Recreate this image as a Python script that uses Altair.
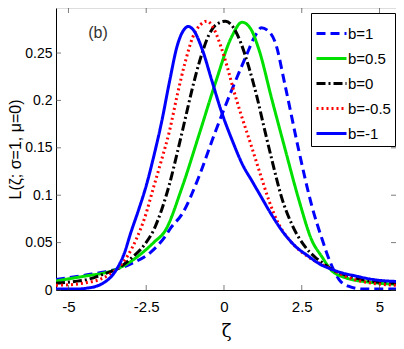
import altair as alt
import pandas as pd

# ---- data ----
labels = ["b=1", "b=0.5", "b=0", "b=-0.5", "b=-1"]
colors = ["#0000FF", "#00E000", "#000000", "#FF0000", "#0000FF"]
dashes = [[9, 5], [1, 0], [9, 3, 2, 3], [2, 3], [1, 0]]

b1_x = [-5.4, -4.4, -3.85, -3.45, -2.9, -2.35, -1.9, -1.7, -1.35, -0.8, -0.3, 0.25, 0.7, 1.0, 1.2, 1.4, 1.65, 1.97, 2.4, 2.83, 3.15, 3.42, 3.7, 4.0, 4.45, 5.0, 5.53]
b1_y = [0.011, 0.016, 0.019, 0.022, 0.029, 0.040, 0.056, 0.066, 0.080, 0.120, 0.165, 0.211, 0.246, 0.268, 0.2766, 0.274, 0.261, 0.215, 0.148, 0.088, 0.054, 0.029, 0.011, 0.004, 0.001, 0.001, 0.001]

b05_x = [-5.4, -4.4, -3.85, -3.45, -2.87, -2.23, -1.9, -1.35, -0.8, -0.28, 0.26, 0.58, 0.85, 1.12, 1.54, 1.97, 2.4, 2.83, 3.15, 3.42, 3.9, 4.75, 5.53]
b05_y = [0.0095, 0.015, 0.018, 0.022, 0.033, 0.051, 0.062, 0.108, 0.164, 0.218, 0.268, 0.2825, 0.276, 0.254, 0.201, 0.148, 0.096, 0.052, 0.035, 0.022, 0.013, 0.008, 0.006]

b0_x = [-5.4, -4.8, -4.4, -3.85, -3.45, -3.0, -2.55, -2.25, -2.0, -1.75, -1.5, -1.25, -1.0, -0.75, -0.5, -0.25, 0.05, 0.3, 0.55, 0.8, 1.05, 1.3, 1.55, 1.85, 2.2, 2.6, 2.95, 3.2, 3.45, 3.8, 4.2, 4.8, 5.53]
b0_y = [0.007, 0.009, 0.011, 0.017, 0.022, 0.033, 0.048, 0.064, 0.085, 0.112, 0.145, 0.180, 0.215, 0.245, 0.268, 0.280, 0.2836, 0.277, 0.260, 0.235, 0.205, 0.170, 0.136, 0.098, 0.068, 0.046, 0.034, 0.028, 0.022, 0.017, 0.013, 0.009, 0.007]

bm05_x = [-5.4, -4.8, -4.4, -4.0, -3.7, -3.45, -3.1, -2.8, -2.55, -2.25, -2.0, -1.75, -1.5, -1.25, -1.0, -0.75, -0.55, -0.35, -0.1, 0.1, 0.3, 0.55, 0.85, 1.15, 1.45, 1.75, 2.1, 2.5, 2.9, 3.15, 3.45, 3.8, 4.2, 4.8, 5.53]
bm05_y = [0.005, 0.006, 0.008, 0.011, 0.016, 0.022, 0.036, 0.055, 0.076, 0.110, 0.138, 0.168, 0.206, 0.240, 0.267, 0.280, 0.2836, 0.277, 0.257, 0.236, 0.212, 0.185, 0.155, 0.124, 0.094, 0.070, 0.053, 0.040, 0.031, 0.027, 0.022, 0.016, 0.011, 0.007, 0.005]

bm1_x = [-5.4, -4.8, -4.4, -4.1, -3.85, -3.6, -3.45, -3.2, -3.0, -2.75, -2.5, -2.25, -2.0, -1.75, -1.5, -1.3, -1.15, -1.0, -0.7, -0.4, -0.1, 0.3, 0.6, 0.9, 1.2, 1.5, 1.9, 2.3, 2.7, 3.1, 3.45, 3.8, 4.2, 4.8, 5.53]
bm1_y = [0.001, 0.001, 0.002, 0.004, 0.008, 0.015, 0.022, 0.039, 0.060, 0.084, 0.110, 0.142, 0.178, 0.220, 0.258, 0.274, 0.278, 0.275, 0.254, 0.222, 0.190, 0.155, 0.132, 0.115, 0.098, 0.081, 0.061, 0.046, 0.036, 0.027, 0.022, 0.018, 0.015, 0.011, 0.009]

x_ticks = [-5, -2.5, 0, 2.5, 5]
y_ticks = [0, 0.05, 0.1, 0.15, 0.2, 0.25]
x_domain = [-5.4, 5.53]
y_domain = [0, 0.2975]

series = [(b1_x, b1_y), (b05_x, b05_y), (b0_x, b0_y), (bm05_x, bm05_y), (bm1_x, bm1_y)]
rows = []
for lab, (xs, ys) in zip(labels, series):
    for xv, yv in zip(xs, ys):
        rows.append({"x": xv, "y": yv, "b": lab})
df = pd.DataFrame(rows)

W, H = 340, 282
FONT = "Liberation Sans, Arial, sans-serif"

xscale = alt.Scale(domain=x_domain, nice=False, zero=False)
yscale = alt.Scale(domain=y_domain, nice=False, zero=False)

x_axis = alt.Axis(values=x_ticks, labelExpr="'' + datum.value", title="ζ",
                  tickSize=0, labelPadding=9, titlePadding=8, grid=False,
                  labelFontSize=15, titleFontSize=18, titleFontWeight="normal",
                  labelFont=FONT, titleFont="DejaVu Serif",
                  domainColor="black", labelColor="black", titleColor="black")
y_axis = alt.Axis(values=y_ticks, format=".2~f", title="L(ζ; σ=1, μ=0)",
                  tickSize=0, labelPadding=4, titlePadding=1, grid=False,
                  labelFontSize=14, titleFontSize=16, titleFontWeight="normal",
                  labelFont=FONT, titleFont=FONT,
                  domainColor="black", labelColor="black", titleColor="black")

lines = alt.Chart(df).mark_line(strokeWidth=3, clip=True, interpolate="monotone").encode(
    x=alt.X("x:Q", scale=xscale, axis=x_axis),
    y=alt.Y("y:Q", scale=yscale, axis=y_axis),
    color=alt.Color("b:N", scale=alt.Scale(domain=labels, range=colors),
                    legend=alt.Legend(title=None, orient="none", legendX=255, legendY=5,
                                      symbolType="stroke", symbolSize=900, symbolStrokeWidth=3,
                                      labelFontSize=15, labelFont=FONT, labelColor="black",
                                      rowPadding=0, padding=4, labelOffset=0,
                                      strokeColor="black", fillColor="white", cornerRadius=0)),
    strokeDash=alt.StrokeDash("b:N", scale=alt.Scale(domain=labels, range=dashes), legend=None),
    detail="b:N",
)

xt = pd.DataFrame({"x": x_ticks})
yt = pd.DataFrame({"y": y_ticks})

xt_bottom = alt.Chart(xt).mark_tick(orient="vertical", size=5, thickness=1, color="#444").encode(
    x=alt.X("x:Q", scale=xscale, axis=x_axis), y=alt.value(H - 2.5))
xt_top = alt.Chart(xt).mark_tick(orient="vertical", size=5, thickness=1, color="#444").encode(
    x=alt.X("x:Q", scale=xscale, axis=x_axis), y=alt.value(2.5))
yt_left = alt.Chart(yt).mark_tick(orient="horizontal", size=5, thickness=1, color="#444").encode(
    y=alt.Y("y:Q", scale=yscale, axis=y_axis), x=alt.value(2.5))
yt_right = alt.Chart(yt).mark_tick(orient="horizontal", size=5, thickness=1, color="#444").encode(
    y=alt.Y("y:Q", scale=yscale, axis=y_axis), x=alt.value(W - 2.5))

panel = alt.Chart(pd.DataFrame({"t": ["(b)"]})).mark_text(
    fontSize=16, font=FONT, color="#333333").encode(
    text="t:N", x=alt.value(42), y=alt.value(25))

chart = alt.layer(lines, xt_bottom, xt_top, yt_left, yt_right, panel).properties(
    width=W, height=H,
    autosize=alt.AutoSizeParams(type="none"),
    padding={"left": 48, "top": 0, "right": 0, "bottom": 58},
).configure_view(stroke="black", strokeWidth=1).configure(background="white")

chart.save("out.html", embed_options={"renderer": "svg", "actions": False})
